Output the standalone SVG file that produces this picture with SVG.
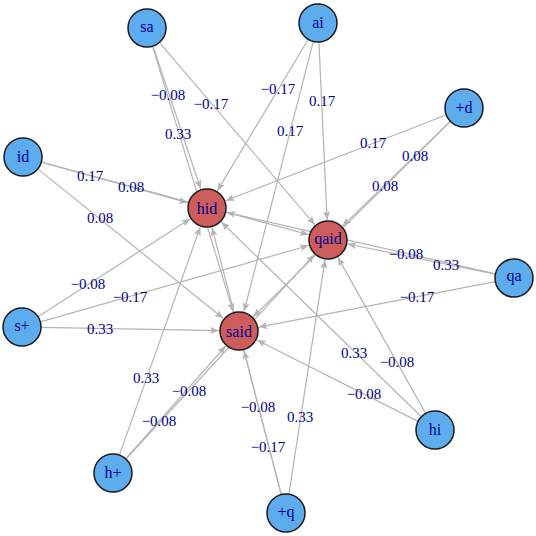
<svg xmlns="http://www.w3.org/2000/svg" width="536" height="536" viewBox="0 0 536 536">
<style>
.e{fill:none;stroke:#b4b4b4;stroke-width:1.2;marker-end:url(#ah)}
.l{font-size:15px;fill:#00008b;text-anchor:middle}
.p{fill:#5cacee;stroke:#1a1a1a;stroke-width:1.5}
.c{fill:#cd5c5c;stroke:#1a1a1a;stroke-width:1.5}
.t{font-size:16px;fill:#00008b;text-anchor:middle}
</style>
<defs>
<marker id="ah" viewBox="0 0 10 8" markerWidth="9" markerHeight="7" refX="10" refY="4" orient="auto" markerUnits="userSpaceOnUse">
<path d="M0,0 L10,4 L0,8 L2,4 z" fill="#b4b4b4"/>
</marker>
</defs>
<rect width="536" height="536" fill="#fff"/>
<g id="edges">
<path class="e" d="M153.3,47.0 L200.7,189.0"/>
<path class="e" d="M152.8,47.1 L233.2,311.9"/>
<path class="e" d="M160.0,43.2 L315.0,224.8"/>
<path class="e" d="M307.7,40.2 L217.3,190.9"/>
<path class="e" d="M313.0,42.4 L244.0,311.6"/>
<path class="e" d="M318.9,42.0 L327.1,220.0"/>
<path class="e" d="M445.4,115.3 L225.6,200.7"/>
<path class="e" d="M450.4,121.2 L342.4,226.1"/>
<path class="e" d="M450.5,121.4 L253.2,316.9"/>
<path class="e" d="M41.3,162.1 L187.7,202.7"/>
<path class="e" d="M41.3,162.0 L308.7,234.7"/>
<path class="e" d="M37.8,168.9 L223.4,318.5"/>
<path class="e" d="M38.0,316.7 L190.2,218.8"/>
<path class="e" d="M40.3,321.8 L308.8,245.5"/>
<path class="e" d="M41.0,327.4 L219.0,330.6"/>
<path class="e" d="M495.4,274.2 L347.6,244.0"/>
<path class="e" d="M495.5,273.8 L226.5,212.4"/>
<path class="e" d="M495.3,281.6 L258.6,327.2"/>
<path class="e" d="M421.4,416.7 L221.3,222.0"/>
<path class="e" d="M425.7,413.4 L337.8,257.4"/>
<path class="e" d="M418.0,421.4 L256.9,340.0"/>
<path class="e" d="M119.4,455.1 L200.3,226.8"/>
<path class="e" d="M125.6,458.8 L225.7,346.0"/>
<path class="e" d="M125.9,459.0 L314.4,254.7"/>
<path class="e" d="M281.3,494.6 L244.0,350.4"/>
<path class="e" d="M281.2,494.6 L212.0,227.4"/>
<path class="e" d="M288.9,494.2 L325.0,259.8"/>
</g>
<g id="edge-labels" font-family="Liberation Serif, Times New Roman, serif">
<text class="l" x="168" y="100">−0.08</text>
<text class="l" x="178" y="139">0.33</text>
<text class="l" x="211" y="109">−0.17</text>
<text class="l" x="278" y="94">−0.17</text>
<text class="l" x="322" y="105.5">0.17</text>
<text class="l" x="290" y="135.5">0.17</text>
<text class="l" x="373" y="148">0.17</text>
<text class="l" x="415" y="160.5">0.08</text>
<text class="l" x="385" y="191">0.08</text>
<text class="l" x="90" y="180.5">0.17</text>
<text class="l" x="131" y="191.5">0.08</text>
<text class="l" x="100" y="223">0.08</text>
<text class="l" x="88" y="289">−0.08</text>
<text class="l" x="130" y="302">−0.17</text>
<text class="l" x="100" y="334">0.33</text>
<text class="l" x="406" y="259">−0.08</text>
<text class="l" x="446" y="270">0.33</text>
<text class="l" x="417" y="301.5">−0.17</text>
<text class="l" x="354" y="357.5">0.33</text>
<text class="l" x="397" y="367">−0.08</text>
<text class="l" x="364" y="399">−0.08</text>
<text class="l" x="146" y="383">0.33</text>
<text class="l" x="189" y="395.5">−0.08</text>
<text class="l" x="159" y="425.5">−0.08</text>
<text class="l" x="258" y="411.5">−0.08</text>
<text class="l" x="268" y="452">−0.17</text>
<text class="l" x="300" y="422">0.33</text>
</g>
<g id="nodes" font-family="Liberation Serif, Times New Roman, serif">
<g id="node-sa"><circle class="p" cx="147" cy="28" r="19"/><text class="t" x="147" y="31.5">sa</text></g>
<g id="node-ai"><circle class="p" cx="318" cy="23" r="19"/><text class="t" x="318" y="27.5">ai</text></g>
<g id="node-plus-d"><circle class="p" cx="464" cy="108" r="19"/><text class="t" x="464" y="113">+d</text></g>
<g id="node-id"><circle class="p" cx="23" cy="157" r="19"/><text class="t" x="23" y="162">id</text></g>
<g id="node-s-plus"><circle class="p" cx="22" cy="327" r="19"/><text class="t" x="22" y="331">s+</text></g>
<g id="node-qa"><circle class="p" cx="514" cy="278" r="19"/><text class="t" x="514" y="281">qa</text></g>
<g id="node-hi"><circle class="p" cx="435" cy="430" r="19"/><text class="t" x="435" y="435">hi</text></g>
<g id="node-h-plus"><circle class="p" cx="113" cy="473" r="19"/><text class="t" x="113" y="478">h+</text></g>
<g id="node-plus-q"><circle class="p" cx="286" cy="513" r="19"/><text class="t" x="286" y="517">+q</text></g>
<g id="node-hid"><circle class="c" cx="207" cy="208" r="19"/><text class="t" x="207" y="213.5">hid</text></g>
<g id="node-qaid"><circle class="c" cx="328" cy="240" r="19"/><text class="t" x="328" y="243.8">qaid</text></g>
<g id="node-said"><circle class="c" cx="239" cy="331" r="19"/><text class="t" x="239" y="336.5">said</text></g>
</g>
</svg>
